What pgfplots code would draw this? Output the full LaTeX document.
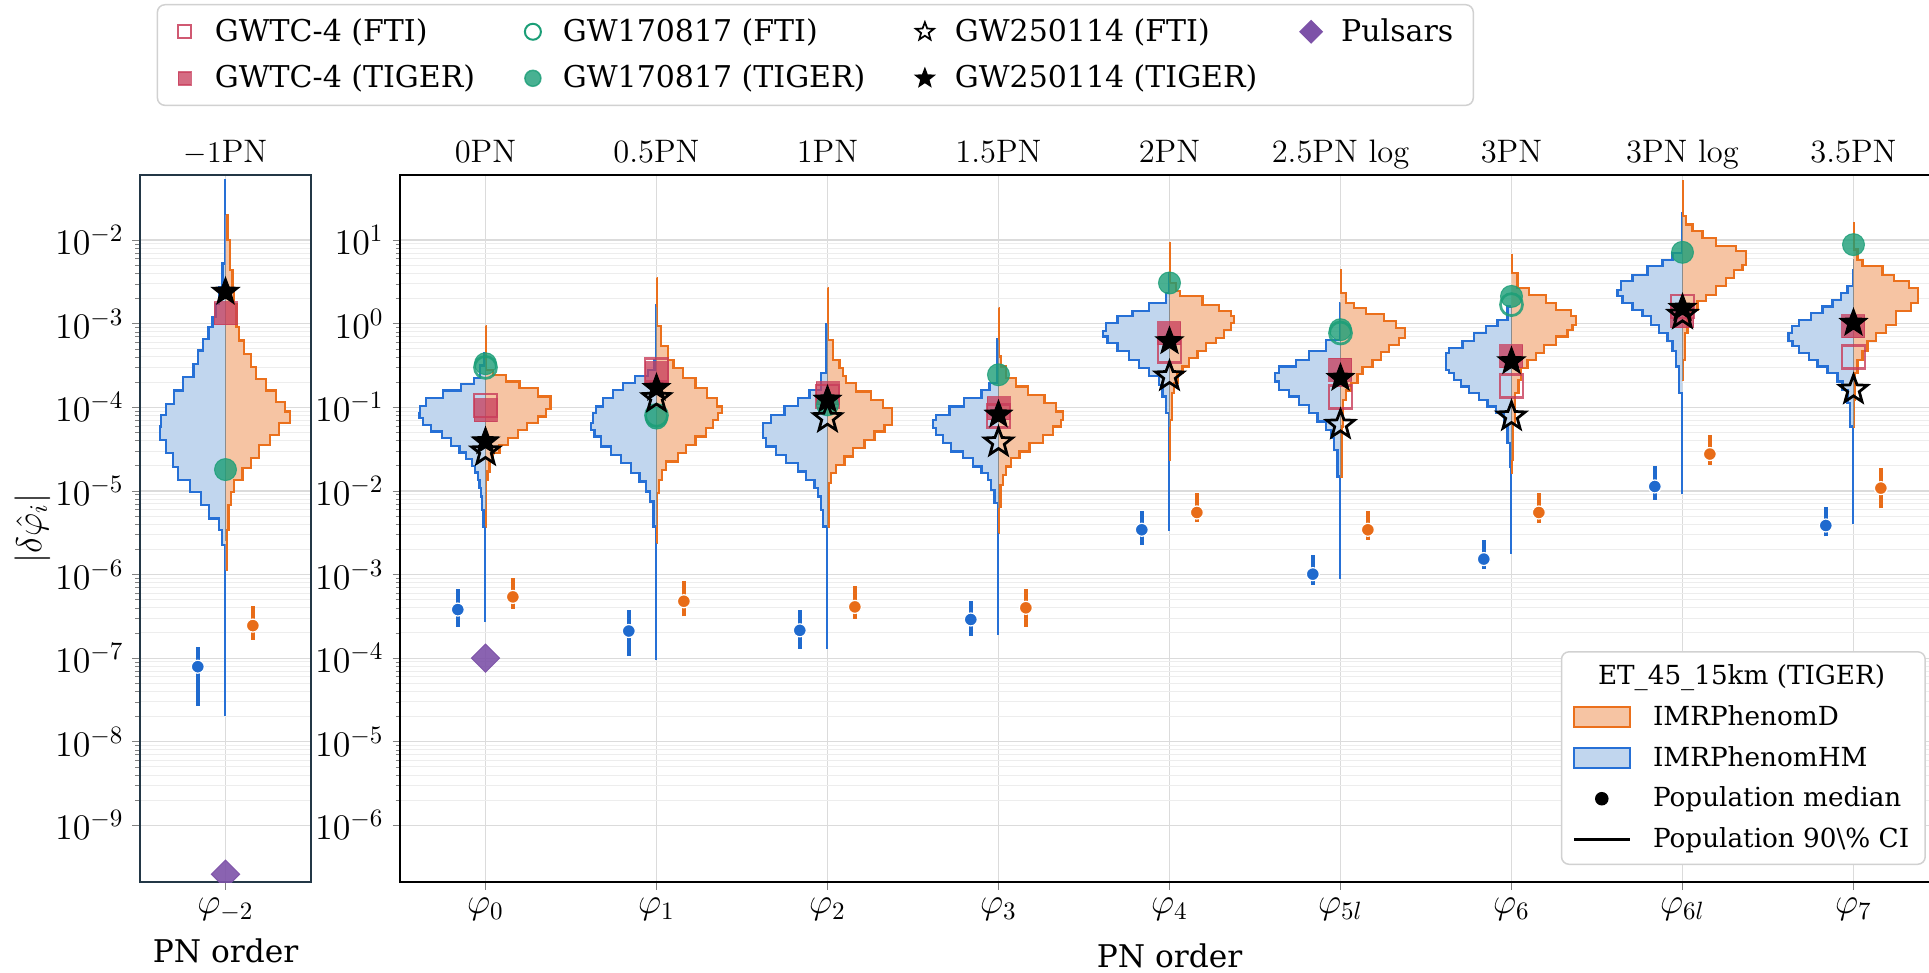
\documentclass[border=0pt]{standalone}
\usepackage{pgfplots}
\pgfplotsset{compat=1.18}
\usepackage{fontspec}
\usetikzlibrary{plotmarks}
\newfontfamily\djs{DejaVu Serif}

\definecolor{hmline}{RGB}{38,112,214}
\definecolor{hmfill}{RGB}{193,214,238}
\definecolor{dline}{RGB}{235,112,28}
\definecolor{dfill}{RGB}{246,196,163}
\definecolor{medblue}{RGB}{31,106,206}
\definecolor{medorange}{RGB}{232,108,24}
\definecolor{gwtc}{RGB}{200,60,90}
\definecolor{gwgreen}{RGB}{27,158,119}
\definecolor{pulsar}{RGB}{125,82,168}
\definecolor{frame}{RGB}{35,55,70}

% five-pointed star, filled and open
\pgfdeclareplotmark{fstar}{%
  \pgfpathmoveto{\pgfqpointpolar{90}{\pgfplotmarksize}}%
  \pgfpathlineto{\pgfqpointpolar{126}{0.42\pgfplotmarksize}}%
  \pgfpathlineto{\pgfqpointpolar{162}{\pgfplotmarksize}}%
  \pgfpathlineto{\pgfqpointpolar{198}{0.42\pgfplotmarksize}}%
  \pgfpathlineto{\pgfqpointpolar{234}{\pgfplotmarksize}}%
  \pgfpathlineto{\pgfqpointpolar{270}{0.42\pgfplotmarksize}}%
  \pgfpathlineto{\pgfqpointpolar{306}{\pgfplotmarksize}}%
  \pgfpathlineto{\pgfqpointpolar{342}{0.42\pgfplotmarksize}}%
  \pgfpathlineto{\pgfqpointpolar{18}{\pgfplotmarksize}}%
  \pgfpathlineto{\pgfqpointpolar{54}{0.42\pgfplotmarksize}}%
  \pgfpathclose\pgfusepathqfillstroke}
\pgfdeclareplotmark{ostar}{%
  \pgfpathmoveto{\pgfqpointpolar{90}{\pgfplotmarksize}}%
  \pgfpathlineto{\pgfqpointpolar{126}{0.42\pgfplotmarksize}}%
  \pgfpathlineto{\pgfqpointpolar{162}{\pgfplotmarksize}}%
  \pgfpathlineto{\pgfqpointpolar{198}{0.42\pgfplotmarksize}}%
  \pgfpathlineto{\pgfqpointpolar{234}{\pgfplotmarksize}}%
  \pgfpathlineto{\pgfqpointpolar{270}{0.42\pgfplotmarksize}}%
  \pgfpathlineto{\pgfqpointpolar{306}{\pgfplotmarksize}}%
  \pgfpathlineto{\pgfqpointpolar{342}{0.42\pgfplotmarksize}}%
  \pgfpathlineto{\pgfqpointpolar{18}{\pgfplotmarksize}}%
  \pgfpathlineto{\pgfqpointpolar{54}{0.42\pgfplotmarksize}}%
  \pgfpathclose\pgfusepathqstroke}

\tikzset{ttl/.style={anchor=base, yshift=5.2pt, font=\fontsize{13}{15}\selectfont}}

\pgfplotsset{
  hm/.style={const plot, mark=none, draw=hmline, fill=hmfill, line width=0.9pt},
  dd/.style={const plot, mark=none, draw=dline, fill=dfill, line width=0.9pt},
  pnaxis/.style={scale only axis, height=282.8pt, clip mode=individual,
    tick align=outside, tick pos=left,
    major tick length=3pt, minor tick length=1.8pt,
    xmajorgrids, ymajorgrids, yminorgrids,
    major grid style={black!14, line width=0.5pt},
    minor grid style={black!7, line width=0.4pt},
    tick label style={font=\fontsize{14}{16}\selectfont},
    xlabel style={font=\djs\fontsize{12.5}{14}\selectfont},
    clip marker paths=true},
  cent/.style={black!45, line width=0.7pt, unbounded coords=jump, mark=none},
  cib/.style={medblue, line width=1.6pt, unbounded coords=jump, mark=none},
  cio/.style={medorange, line width=1.6pt, unbounded coords=jump, mark=none},
  medb/.style={only marks, mark=*, mark size=2.6pt, mark options={fill=medblue, draw=white, line width=0.5pt}},
  medo/.style={only marks, mark=*, mark size=2.6pt, mark options={fill=medorange, draw=white, line width=0.5pt}},
  fsq/.style={only marks, mark=square, mark size=4.6pt, mark options={draw=gwtc, draw opacity=0.8, line width=1.1pt}},
  tsq/.style={only marks, mark=square*, mark size=4.6pt, mark options={draw=gwtc, fill=gwtc, opacity=0.75}},
  fci/.style={only marks, mark=o, mark size=4.4pt, mark options={draw=gwgreen, draw opacity=0.85, line width=1.1pt}},
  tci/.style={only marks, mark=*, mark size=4.4pt, mark options={draw=gwgreen, fill=gwgreen, opacity=0.8}},
  fst/.style={only marks, mark=ostar, mark size=5.8pt, mark options={draw=black, line width=1.1pt, line join=miter}},
  tst/.style={only marks, mark=fstar, mark size=5.8pt, mark options={draw=black, fill=black, line width=0.4pt}},
  pul/.style={only marks, mark=square*, mark size=4pt, mark options={rotate=45, draw=pulsar, fill=pulsar, opacity=0.9}},
}

\begin{document}
\begin{tikzpicture}
\path[use as bounding box] (0pt,0pt) rectangle (771.6pt,-388.8pt);

% ---------------- left panel: -1PN ----------------
\begin{axis}[pnaxis, ymode=log, at={(56pt,-70pt)}, anchor=north west, width=68.4pt,
  xmin=-0.5, xmax=0.5, ymin=2.1e-10, ymax=0.06,
  ytick={1e-9,1e-8,1e-7,1e-6,1e-5,1e-4,1e-3,1e-2},
  xtick={0}, xticklabels={$\varphi_{-2}$},
  axis line style={draw=frame, line width=0.9pt},
  ylabel={$|\delta\hat{\varphi}_i|$},
  ylabel style={at={([xshift=-43pt]rel axis cs:0,0.5)}, anchor=center, font=\fontsize{14}{16}\selectfont},
  xlabel={PN order},
  xlabel style={at={([yshift=-27.6pt]rel axis cs:0.5,0)}, anchor=center}]

\addplot[hm] table[x expr=0-\thisrow{w}, y expr=10^(\thisrow{l})] {
l w
-1.28 0
-2.28 0.004
-2.56 0.018
-2.76 0.037
-2.92 0.057
-3.04 0.076
-3.18 0.10
-3.32 0.131
-3.48 0.16
-3.64 0.187
-3.80 0.25
-3.96 0.30
-4.09 0.349
-4.23 0.378
-4.39 0.384
-4.55 0.349
-4.71 0.306
-4.87 0.277
-5.01 0.209
-5.17 0.144
-5.33 0.095
-5.47 0.037
-5.65 0.021
-7.68 0.004
-7.68 0
};
\addplot[dd] table[x expr=0+\thisrow{w}, y expr=10^(\thisrow{l})] {
l w
-1.70 0
-2.00 0.012
-2.36 0.025
-2.60 0.041
-2.76 0.051
-3.04 0.064
-3.20 0.08
-3.36 0.109
-3.52 0.148
-3.66 0.177
-3.80 0.236
-3.94 0.294
-4.05 0.349
-4.19 0.376
-4.33 0.314
-4.45 0.259
-4.61 0.197
-4.73 0.148
-4.87 0.099
-5.01 0.051
-5.17 0.031
-5.47 0.018
-5.95 0.008
-5.95 0
};
\addplot[cent] coordinates {(0,5.0e-3) (0,2.5e-6)};

\addplot[cib] coordinates {(-0.162,2.7e-8) (-0.162,1.35e-7)};
\addplot[cio] coordinates {(0.16,1.66e-7) (0.16,4.2e-7)};
\addplot[medb] coordinates {(-0.162,7.9e-8)};
\addplot[medo] coordinates {(0.16,2.45e-7)};

\addplot[tsq] coordinates {(0,1.33e-3)};
\addplot[tci] coordinates {(0,1.8e-5)};
\addplot[tst] coordinates {(0,2.4e-3)};
\addplot[pul] coordinates {(0,2.6e-10)};

\node[ttl] at (axis cs:0,0.06) {$-1$PN};
\end{axis}

% ---------------- right panel: 0PN ... 3.5PN ----------------
\begin{axis}[pnaxis, ymode=log, at={(160pt,-70pt)}, anchor=north west, width=615.6pt,
  xmin=-0.5, xmax=8.5, ymin=2.1e-7, ymax=60,
  ytick={1e-6,1e-5,1e-4,1e-3,1e-2,1e-1,1,10},
  xtick={0,1,2,3,4,5,6,7,8},
  xticklabels={$\varphi_0$,$\varphi_1$,$\varphi_2$,$\varphi_3$,$\varphi_4$,$\varphi_{5l}$,$\varphi_6$,$\varphi_{6l}$,$\varphi_7$},
  axis line style={line width=0.8pt},
  xlabel={PN order},
  xlabel style={at={([yshift=-29.4pt]rel axis cs:0.5,0)}, anchor=center}]

% 0PN
\addplot[hm] table[x expr=0-\thisrow{w}, y expr=10^(\thisrow{l})] {
l w
-0.35 0
-0.50 0.008
-0.65 0.03
-0.718 0.068
-0.798 0.142
-0.89 0.25
-0.981 0.347
-1.069 0.382
-1.129 0.386
-1.209 0.366
-1.288 0.318
-1.368 0.253
-1.46 0.2
-1.54 0.152
-1.619 0.113
-1.699 0.08
-1.779 0.06
-1.867 0.045
-1.966 0.035
-2.066 0.027
-2.226 0.02
-2.425 0.012
-3.555 0.004
-3.555 0
};
\addplot[dd] table[x expr=0+\thisrow{w}, y expr=10^(\thisrow{l})] {
l w
-0.03 0
-0.55 0.004
-0.61 0.043
-0.69 0.121
-0.77 0.199
-0.87 0.306
-1.021 0.38
-1.109 0.355
-1.189 0.306
-1.268 0.242
-1.368 0.189
-1.448 0.131
-1.548 0.082
-1.647 0.043
-1.767 0.023
-1.867 0.012
-2.425 0.005
-2.425 0
};
% 0.5PN
\addplot[hm] table[x expr=1-\thisrow{w}, y expr=10^(\thisrow{l})] {
l w
0.227 0
-0.431 0.004
-0.55 0.012
-0.63 0.05
-0.71 0.125
-0.79 0.197
-0.889 0.255
-0.989 0.314
-1.069 0.353
-1.189 0.372
-1.268 0.382
-1.348 0.363
-1.468 0.324
-1.568 0.265
-1.667 0.207
-1.787 0.148
-1.887 0.10
-2.006 0.06
-2.126 0.04
-2.425 0.018
-4.01 0.004
-4.01 0
};
\addplot[dd] table[x expr=1+\thisrow{w}, y expr=10^(\thisrow{l})] {
l w
0.546 0
-0.032 0.005
-0.271 0.025
-0.431 0.066
-0.531 0.10
-0.65 0.154
-0.77 0.228
-0.889 0.296
-0.989 0.353
-1.069 0.382
-1.149 0.36
-1.25 0.33
-1.348 0.29
-1.448 0.228
-1.548 0.173
-1.647 0.125
-1.747 0.056
-1.867 0.031
-2.026 0.014
-2.625 0.005
-2.625 0
};
% 1PN
\addplot[hm] table[x expr=2-\thisrow{w}, y expr=10^(\thisrow{l})] {
l w
0.0 0
-0.59 0.006
-0.79 0.037
-0.889 0.105
-0.981 0.173
-1.089 0.251
-1.189 0.33
-1.368 0.378
-1.468 0.359
-1.568 0.30
-1.667 0.242
-1.767 0.173
-1.867 0.125
-1.966 0.076
-2.066 0.057
-2.226 0.037
-2.425 0.027
-3.88 0.004
-3.88 0
};
\addplot[dd] table[x expr=2+\thisrow{w}, y expr=10^(\thisrow{l})] {
l w
0.427 0
-0.191 0.005
-0.431 0.031
-0.531 0.07
-0.63 0.09
-0.71 0.109
-0.81 0.168
-0.909 0.255
-1.009 0.324
-1.209 0.376
-1.288 0.333
-1.388 0.275
-1.488 0.216
-1.588 0.148
-1.687 0.10
-1.787 0.051
-1.907 0.021
-2.425 0.008
-2.425 0
};
% 1.5PN
\addplot[hm] table[x expr=3-\thisrow{w}, y expr=10^(\thisrow{l})] {
l w
-0.19 0
-0.71 0.006
-0.79 0.053
-0.889 0.10
-0.989 0.2
-1.089 0.287
-1.149 0.365
-1.249 0.384
-1.328 0.365
-1.428 0.326
-1.528 0.277
-1.607 0.209
-1.707 0.15
-1.787 0.10
-1.867 0.062
-1.986 0.043
-2.146 0.023
-3.715 0.004
-3.715 0
};
\addplot[dd] table[x expr=3+\thisrow{w}, y expr=10^(\thisrow{l})] {
l w
0.187 0
-0.391 0.005
-0.511 0.016
-0.65 0.045
-0.75 0.103
-0.85 0.172
-0.949 0.269
-1.049 0.337
-1.149 0.376
-1.229 0.366
-1.328 0.318
-1.428 0.259
-1.528 0.181
-1.607 0.123
-1.707 0.074
-1.807 0.045
-1.927 0.025
-2.186 0.012
-2.5 0.005
-2.5 0
};
% 2PN
\addplot[hm] table[x expr=4-\thisrow{w}, y expr=10^(\thisrow{l})] {
l w
0.606 0
0.367 0.004
0.247 0.02
0.148 0.12
0.088 0.216
0.008 0.304
-0.092 0.372
-0.152 0.388
-0.231 0.363
-0.331 0.304
-0.431 0.236
-0.531 0.177
-0.63 0.119
-0.73 0.06
-0.87 0.041
-1.069 0.021
-2.465 0.004
-2.465 0
};
\addplot[dd] table[x expr=4+\thisrow{w}, y expr=10^(\thisrow{l})] {
l w
0.965 0
0.487 0.005
0.387 0.037
0.327 0.06
0.227 0.193
0.148 0.29
0.088 0.359
0.008 0.378
-0.072 0.359
-0.172 0.32
-0.231 0.27
-0.331 0.212
-0.411 0.164
-0.511 0.115
-0.59 0.076
-0.71 0.047
-0.83 0.027
-1.149 0.014
-1.627 0.005
-1.627 0
};
% 2.5PN log
\addplot[hm] table[x expr=5-\thisrow{w}, y expr=10^(\thisrow{l})] {
l w
0.247 0
-0.191 0.005
-0.331 0.086
-0.431 0.183
-0.511 0.261
-0.59 0.359
-0.69 0.382
-0.79 0.359
-0.87 0.30
-0.969 0.242
-1.069 0.183
-1.169 0.135
-1.268 0.086
-1.368 0.057
-1.508 0.037
-1.827 0.018
-3.043 0.004
-3.043 0
};
\addplot[dd] table[x expr=5+\thisrow{w}, y expr=10^(\thisrow{l})] {
l w
0.646 0
0.367 0.005
0.247 0.031
0.187 0.08
0.12 0.148
0.028 0.255
-0.052 0.324
-0.172 0.376
-0.251 0.343
-0.343 0.285
-0.431 0.236
-0.519 0.187
-0.598 0.129
-0.71 0.10
-0.798 0.06
-0.909 0.031
-1.229 0.016
-1.827 0.006
-1.827 0
};
% 3PN
\addplot[hm] table[x expr=6-\thisrow{w}, y expr=10^(\thisrow{l})] {
l w
0.207 0
0.048 0.023
-0.032 0.082
-0.112 0.15
-0.211 0.218
-0.291 0.287
-0.351 0.365
-0.55 0.384
-0.59 0.365
-0.67 0.335
-0.75 0.296
-0.83 0.248
-0.909 0.189
-0.989 0.14
-1.069 0.092
-1.229 0.043
-1.428 0.023
-1.707 0.01
-2.744 0.004
-2.744 0
};
\addplot[dd] table[x expr=6+\thisrow{w}, y expr=10^(\thisrow{l})] {
l w
0.826 0
0.606 0.005
0.427 0.035
0.347 0.103
0.247 0.20
0.168 0.259
0.088 0.347
-0.012 0.376
-0.072 0.357
-0.152 0.327
-0.251 0.259
-0.351 0.191
-0.431 0.142
-0.531 0.094
-0.67 0.055
-0.83 0.041
-1.189 0.021
-1.627 0.006
-1.787 0.004
-1.787 0
};
% 3PN log
\addplot[hm] table[x expr=7-\thisrow{w}, y expr=10^(\thisrow{l})] {
l w
1.324 0
0.846 0.005
0.766 0.058
0.686 0.117
0.586 0.205
0.507 0.292
0.407 0.361
0.327 0.38
0.247 0.351
0.168 0.292
0.088 0.234
-0.012 0.185
-0.112 0.136
-0.211 0.088
-0.331 0.058
-0.511 0.039
-0.83 0.02
-2.026 0.004
-2.026 0
};
\addplot[dd] table[x expr=7+\thisrow{w}, y expr=10^(\thisrow{l})] {
l w
1.703 0
1.284 0.005
1.185 0.02
1.105 0.058
1.025 0.117
0.925 0.195
0.866 0.312
0.706 0.37
0.646 0.351
0.546 0.302
0.447 0.253
0.347 0.195
0.267 0.136
0.168 0.088
0.048 0.049
-0.112 0.029
-0.431 0.016
-0.67 0.005
-0.67 0
};
% 3.5PN
\addplot[hm] table[x expr=8-\thisrow{w}, y expr=10^(\thisrow{l})] {
l w
0.646 0
0.447 0.005
0.367 0.035
0.287 0.074
0.207 0.123
0.128 0.181
0.048 0.25
-0.032 0.318
-0.112 0.361
-0.211 0.38
-0.271 0.357
-0.351 0.318
-0.431 0.259
-0.511 0.21
-0.59 0.152
-0.69 0.094
-0.79 0.064
-0.949 0.035
-1.229 0.019
-2.385 0.004
-2.385 0
};
\addplot[dd] table[x expr=8+\thisrow{w}, y expr=10^(\thisrow{l})] {
l w
1.205 0
0.886 0.005
0.766 0.023
0.686 0.053
0.586 0.17
0.507 0.238
0.427 0.326
0.247 0.378
0.148 0.335
-0.012 0.248
-0.112 0.189
-0.211 0.131
-0.331 0.082
-0.431 0.053
-0.59 0.023
-0.909 0.01
-1.229 0.005
-1.229 0
};

\addplot[cent] coordinates {(0,0.372) (0,5.9e-3) (nan,nan) (1,1.58) (1,3.7e-3) (nan,nan)
  (2,1.0) (2,3.7e-3) (nan,nan) (3,0.646) (3,6.3e-3) (nan,nan) (4,3.09) (4,0.0589) (nan,nan)
  (5,1.78) (5,0.0148) (nan,nan) (6,1.58) (6,0.0234) (nan,nan) (7,19.05) (7,0.214) (nan,nan)
  (8,5.89) (8,0.0589)};

% population medians and 90% CI
\addplot[cib] coordinates {(-0.162,2.36e-4) (-0.162,6.8e-4) (nan,nan) (0.838,1.06e-4) (0.838,3.74e-4) (nan,nan)
  (1.838,1.3e-4) (1.838,3.74e-4) (nan,nan) (2.838,1.84e-4) (2.838,4.8e-4) (nan,nan)
  (3.838,2.27e-3) (3.838,5.68e-3) (nan,nan) (4.838,7.5e-4) (4.838,1.72e-3) (nan,nan)
  (5.838,1.16e-3) (5.838,2.6e-3) (nan,nan) (6.838,7.8e-3) (6.838,1.96e-2) (nan,nan)
  (7.838,2.85e-3) (7.838,6.5e-3)};
\addplot[cio] coordinates {(0.16,3.9e-4) (0.16,9.2e-4) (nan,nan) (1.16,3.16e-4) (1.16,8.3e-4) (nan,nan)
  (2.16,2.97e-4) (2.16,7.3e-4) (nan,nan) (3.16,2.36e-4) (3.16,6.8e-4) (nan,nan)
  (4.16,4.2e-3) (4.16,9.4e-3) (nan,nan) (5.16,2.6e-3) (5.16,5.68e-3) (nan,nan)
  (6.16,4.1e-3) (6.16,9.4e-3) (nan,nan) (7.16,2.06e-2) (7.16,4.7e-2) (nan,nan)
  (8.16,6.2e-3) (8.16,1.87e-2)};
\addplot[medb] coordinates {(-0.162,3.81e-4) (0.838,2.11e-4) (1.838,2.15e-4) (2.838,2.9e-4)
  (3.838,3.43e-3) (4.838,1.01e-3) (5.838,1.53e-3) (6.838,1.13e-2) (7.838,3.86e-3)};
\addplot[medo] coordinates {(0.16,5.4e-4) (1.16,4.79e-4) (2.16,4.1e-4) (3.16,4.0e-4)
  (4.16,5.52e-3) (5.16,3.43e-3) (6.16,5.52e-3) (7.16,2.76e-2) (8.16,1.08e-2)};

% events
\addplot[fsq] coordinates {(0,0.105) (1,0.28) (2,0.135) (3,0.078) (4,0.467) (5,0.133) (6,0.178) (7,1.61) (8,0.40)};
\addplot[tsq] coordinates {(0,0.092) (1,0.257) (2,0.148) (3,0.098) (4,0.773) (5,0.28) (6,0.406) (7,1.22) (8,0.93)};
\addplot[fci] coordinates {(0,0.30) (1,0.08) (5,0.773) (6,1.69)};
\addplot[tci] coordinates {(0,0.332) (1,0.0743) (2,0.107) (3,0.245) (4,3.07) (5,0.848) (6,2.12) (7,7.14) (8,8.82)};
\addplot[fst] coordinates {(0,0.0297) (1,0.129) (2,0.0743) (3,0.038) (4,0.234) (5,0.0618) (6,0.0778) (7,1.28) (8,0.162)};
\addplot[tst] coordinates {(0,0.039) (1,0.17) (2,0.123) (3,0.0815) (4,0.615) (5,0.224) (6,0.354) (7,1.54) (8,1.02)};
\addplot[pul] coordinates {(0,1.0e-4)};

\node[ttl] at (axis cs:0,60) {0PN};
\node[ttl] at (axis cs:1,60) {0.5PN};
\node[ttl] at (axis cs:2,60) {1PN};
\node[ttl] at (axis cs:3,60) {1.5PN};
\node[ttl] at (axis cs:4,60) {2PN};
\node[ttl] at (axis cs:5,60) {2.5PN log};
\node[ttl] at (axis cs:6,60) {3PN};
\node[ttl] at (axis cs:7,60) {3PN log};
\node[ttl] at (axis cs:8,60) {3.5PN};
\end{axis}

% ---------------- top legend ----------------
\begin{axis}[at={(0pt,-388.8pt)}, anchor=south west, scale only axis,
  width=771.6pt, height=388.8pt, hide axis, xmin=0, xmax=1, ymin=0, ymax=1,
  legend columns=4, legend cell align=left,
  legend image code/.code={\path[draw=none, fill=none] (-5pt,-4pt) rectangle (5pt,4pt); \draw[sharp corners, #1] plot coordinates {(0pt,0pt)};},
  legend style={at={(0.0812,0.9959)}, anchor=north west, draw=black!18, line width=0.6pt,
    rounded corners=3pt, fill=white, inner xsep=6pt, inner ysep=3.5pt, row sep=4pt,
    font=\djs\fontsize{12}{14}\selectfont,
    /tikz/every odd column/.append style={column sep=5pt}}]
\addlegendimage{mark=square, mark size=2.6pt, mark options={draw=gwtc, line width=0.8pt, draw opacity=0.85}}
\addlegendentry{\makebox[120.2pt][l]{GWTC-4 (FTI)}}
\addlegendimage{mark=o, mark size=3.2pt, mark options={draw=gwgreen, line width=0.8pt}}
\addlegendentry{\makebox[137.8pt][l]{GW170817 (FTI)}}
\addlegendimage{mark=ostar, mark size=3.8pt, mark options={draw=black, line width=0.7pt}}
\addlegendentry{\makebox[135.5pt][l]{GW250114 (FTI)}}
\addlegendimage{mark=square*, mark size=3.1pt, mark options={rotate=45, draw=pulsar, fill=pulsar}}
\addlegendentry{Pulsars}
\addlegendimage{mark=square*, mark size=2.6pt, mark options={draw=gwtc, fill=gwtc, opacity=0.75}}
\addlegendentry{GWTC-4 (TIGER)}
\addlegendimage{mark=*, mark size=3.2pt, mark options={draw=gwgreen, fill=gwgreen, opacity=0.8}}
\addlegendentry{GW170817 (TIGER)}
\addlegendimage{mark=fstar, mark size=3.8pt, mark options={draw=black, fill=black}}
\addlegendentry{GW250114 (TIGER)}
\end{axis}

% ---------------- model legend ----------------
\begin{axis}[at={(0pt,-388.8pt)}, anchor=south west, scale only axis,
  width=771.6pt, height=388.8pt, hide axis, xmin=0, xmax=1, ymin=0, ymax=1,
  legend cell align=left,
  legend style={at={(0.9984,0.3302)}, anchor=north east, draw=black!18, line width=0.6pt,
    rounded corners=3pt, fill=white, inner xsep=4.4pt, inner ysep=3.2pt, row sep=2.8pt,
    font=\djs\fontsize{10.5}{12.5}\selectfont,
    /tikz/every odd column/.append style={column sep=6.4pt}}]
\addlegendimage{empty legend}
\addlegendentry{\hspace*{-22pt}ET\_45\_15km (TIGER)}
\addlegendimage{legend image code/.code={\draw[sharp corners, draw=dline, fill=dfill, line width=0.8pt] (0pt,-4pt) rectangle (22.4pt,4pt);}}
\addlegendentry{IMRPhenomD}
\addlegendimage{legend image code/.code={\draw[sharp corners, draw=hmline, fill=hmfill, line width=0.8pt] (0pt,-4pt) rectangle (22.4pt,4pt);}}
\addlegendentry{IMRPhenomHM}
\addlegendimage{legend image code/.code={\path[draw=none, fill=none] (0pt,-4pt) rectangle (22.4pt,4pt); \draw[mark=*, mark size=2.4pt, mark options={fill=black, draw=black}] plot coordinates {(11pt,0pt)};}}
\addlegendentry{Population median}
\addlegendimage{legend image code/.code={\draw[black, line width=1.4pt] (0pt,0pt) -- (22.4pt,0pt);}}
\addlegendentry{Population 90\textbackslash\% CI}
\end{axis}
\end{tikzpicture}
\end{document}
